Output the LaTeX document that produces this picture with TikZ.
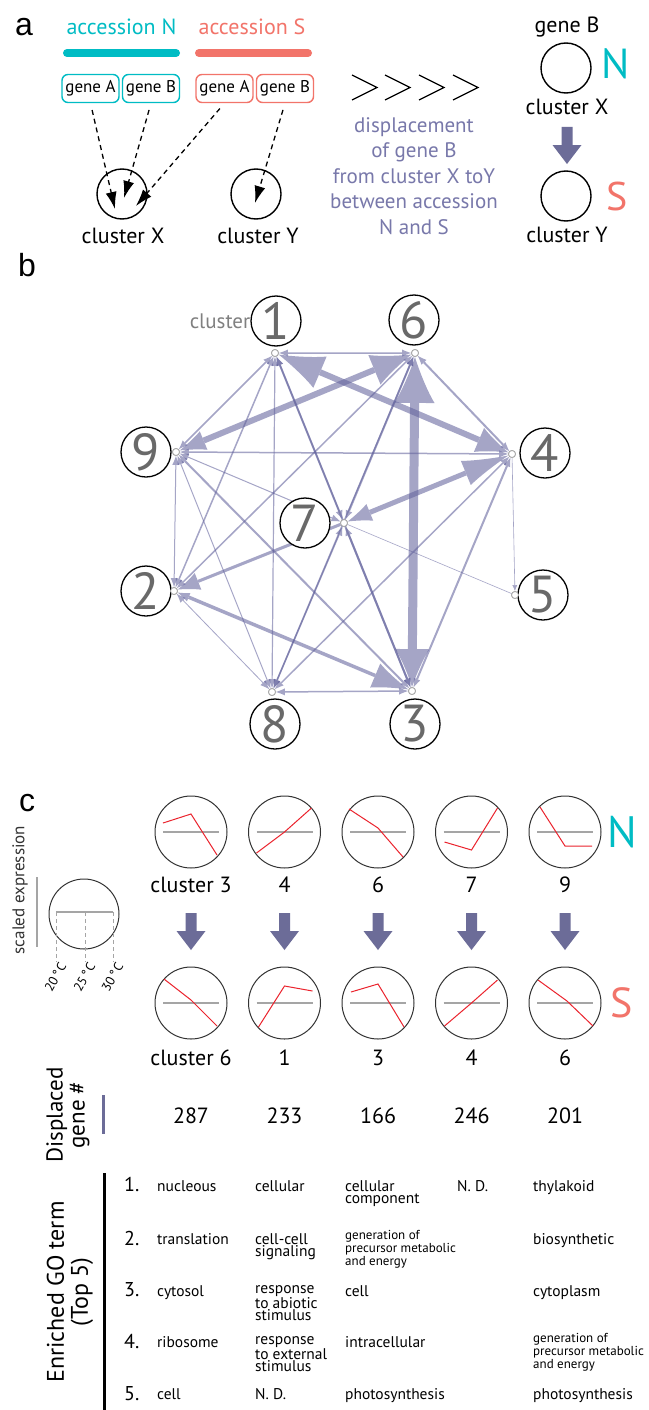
\documentclass[tikz,border=0pt]{standalone}
\usepackage{fontspec}
\setmainfont{PT Sans}
\newfontfamily\labfont{Liberation Sans}
\usetikzlibrary{arrows.meta,calc}
\definecolor{cyanN}{RGB}{0,188,196}
\definecolor{salS}{RGB}{242,116,106}
\definecolor{purp}{RGB}{120,120,170}
\definecolor{edgec}{RGB}{100,100,158}
\definecolor{arrc}{RGB}{108,108,152}
\definecolor{numgrey}{RGB}{105,105,105}
\definecolor{redl}{RGB}{235,35,45}
\definecolor{greyl}{RGB}{165,165,165}
\newcommand\fsz[1]{\fontsize{#1}{#1}\selectfont}
\newcommand\edgeline[3]{\begin{scope}[transparency group, opacity=0.58]\draw[edgec,#1] (#2) -- (#3);\end{scope}}
\tikzset{
  panellab/.style={font=\labfont\fsz{32}, inner sep=0},
  gbox/.style={draw, rounded corners=6pt, line width=1.4pt, minimum width=57pt, minimum height=28pt, inner sep=1pt, font=\fsz{17}},
  dasharr/.style={line width=1.3pt, dash pattern=on 5pt off 4pt, -{Latex[length=17pt,width=11pt]}, shorten <=7pt},
  bigc/.style={circle, draw, line width=1.4pt, minimum size=50pt, inner sep=0},
  clab/.style={font=\fsz{22}, inner sep=0},
  chev/.style={line width=1.3pt},
  nd/.style={circle, draw=gray!70, fill=white, line width=0.8pt, minimum size=7pt, inner sep=0},
  lc/.style={circle, draw=black, fill=white, line width=1.3pt, minimum size=50pt, inner sep=0, text=numgrey, font=\fsz{52}},
  sm/.style={arrows={Latex[length=9pt,width=7pt,line width=0pt]-Latex[length=9pt,width=7pt,line width=0pt]}},
  ecirc/.style={circle, draw=black!80, line width=1pt, minimum size=72pt, inner sep=0},
  red/.style={draw=redl, line width=1pt},
  gline/.style={draw=greyl, line width=1.6pt},
  tnum/.style={font=\fsz{20}, anchor=west, inner sep=0},
  tcell/.style={font=\fontsize{15.5}{12.5}\selectfont, align=left, anchor=north west, inner sep=0},
  tsmall/.style={font=\fontsize{13}{11.5}\selectfont, align=left, anchor=north west, inner sep=0},
  downarr/.pic={\fill[arrc] (-5.5,0) -- (5.5,0) -- (5.5,18) -- (14.5,18) -- (0,37) -- (-14.5,18) -- (-5.5,18) -- cycle;}
}
\begin{document}
\begin{tikzpicture}[x=1pt,y=-1pt]
\path[use as bounding box, fill=white] (0,0) rectangle (648,1410);

% ---------------- panel a
\node[panellab] (pa) at (24,27) {a};
\node[text=cyanN, font=\fsz{22}] (accN) at (121.5,27) {accession N};
\node[text=salS, font=\fsz{22}] (accS) at (252,27) {accession S};
\draw[cyanN, line width=8pt, line cap=round] (67,53) -- (176,53);
\draw[salS, line width=8pt, line cap=round] (199,53) -- (308,53);
\node[gbox, draw=cyanN] (nA) at (90.5,88.5) {gene A};
\node[gbox, draw=cyanN] (nB) at (151,88.5) {gene B};
\node[gbox, draw=salS] (sA) at (224.5,88.5) {gene A};
\node[gbox, draw=salS] (sB) at (285,88.5) {gene B};
\node[bigc] (cX) at (122,194) {};
\node[bigc] (cY) at (256,194) {};
\node[clab] (lX) at (123,236) {cluster X};
\node[clab] (lY) at (258,236) {cluster Y};
\coordinate (tA) at (115,209);
\coordinate (tB) at (124,198);
\coordinate (tC) at (136,206);
\coordinate (tD) at (255,203);
\draw[dasharr] (nA.south) -- (tA);
\draw[dasharr] (nB.south) -- (tB);
\draw[dasharr] (sA.south) -- (tC);
\draw[dasharr] (sB.south) -- (tD);
\foreach \cx in {352,385,419,453}{\draw[chev] (\cx,75) -- (\cx+25,87.5) -- (\cx,100);}
\node[text=purp, align=center, font=\fontsize{21}{25.5}\selectfont] (disp) at (414,176) {displacement\\of gene B\\from cluster X toY\\between accession\\N and S};
\node[clab] (gB) at (567,27) {gene B};
\node[bigc] (rX) at (566,68) {};
\node[text=cyanN, font=\fsz{42}, inner sep=0] (rN) at (616,64) {N};
\node[clab] (rlX) at (567,107) {cluster X};
\pic at (567,127) {downarr};
\node[bigc] (rY) at (566,196) {};
\node[text=salS, font=\fsz{40}, inner sep=0] (rS) at (617,196) {S};
\node[clab] (rlY) at (567,235) {cluster Y};

% ---------------- panel b
\node[panellab] (pb) at (27,265) {b};
\node[nd] (n1) at (275,353) {};
\node[nd] (n6) at (415,353) {};
\node[nd] (n9) at (176,452) {};
\node[nd] (n4) at (512,454) {};
\node[nd] (n7) at (344,523) {};
\node[nd] (n2) at (174,591) {};
\node[nd] (n5) at (515,595) {};
\node[nd] (n8) at (272,692) {};
\node[nd] (n3) at (412,691) {};
% thick edges
\edgeline{line width=9pt, {Latex[length=46pt,width=40pt,line width=0pt]}-{Latex[length=38pt,width=34pt,line width=0pt]}}{n6}{n3}
\edgeline{line width=6pt, {Latex[length=45pt,width=34pt,line width=0pt]}-{Latex[length=32pt,width=26pt,line width=0pt]}}{n1}{n4}
\edgeline{line width=6pt, {Latex[length=26pt,width=20pt,line width=0pt]}-{Latex[length=40pt,width=32pt,line width=0pt]}}{n9}{n6}
\edgeline{line width=5pt, {Latex[length=24pt,width=18pt,line width=0pt]}-{Latex[length=46pt,width=26pt,line width=0pt]}}{n7}{n4}
\edgeline{line width=3pt, -{Latex[length=22pt,width=18pt,line width=0pt]}}{n7}{n2}
\edgeline{line width=3.5pt, {Latex[length=12pt,width=9pt,line width=0pt]}-{Latex[length=36pt,width=26pt,line width=0pt]}}{n2}{n3}
% thinner edges
\edgeline{line width=2pt, sm}{n6}{n4}
\edgeline{line width=1.5pt, sm}{n1}{n6}
\edgeline{line width=1.5pt, sm}{n9}{n4}
\edgeline{line width=1.5pt, sm}{n1}{n9}
\edgeline{line width=1.5pt, sm}{n1}{n2}
\edgeline{line width=1.2pt, sm}{n1}{n8}
\edgeline{line width=1.5pt, sm}{n1}{n7}
\edgeline{line width=2pt, sm}{n1}{n3}
\edgeline{line width=2pt, sm}{n6}{n7}
\edgeline{line width=1.5pt, sm}{n6}{n2}
\edgeline{line width=1.5pt, sm}{n6}{n8}
\edgeline{line width=1pt, sm}{n9}{n2}
\edgeline{line width=1pt, sm}{n9}{n8}
\edgeline{line width=2pt, sm}{n9}{n3}
\edgeline{line width=1pt, sm}{n9}{n7}
\edgeline{line width=0.6pt, -{Latex[length=6pt,width=5pt]}}{n4}{n5}
\edgeline{line width=1.5pt, sm}{n4}{n8}
\edgeline{line width=2pt, sm}{n4}{n3}
\edgeline{line width=0.6pt}{n7}{n5}
\edgeline{line width=1.5pt, sm}{n7}{n8}
\edgeline{line width=2pt, sm}{n7}{n3}
\edgeline{line width=0.8pt, sm}{n2}{n8}
\edgeline{line width=1.5pt, sm}{n8}{n3}
% label circles
\node[lc] (l1) at (276,321) {1};
\node[lc] (l6) at (414,320) {6};
\node[lc] (l9) at (146,452) {9};
\node[lc] (l4) at (545,453) {4};
\node[lc] (l7) at (305,523) {7};
\node[lc] (l2) at (146,591) {2};
\node[lc] (l5) at (543,595) {5};
\node[lc] (l8) at (275,724) {8};
\node[lc] (l3) at (415,724) {3};
\node[text=numgrey!85, font=\fsz{21}, inner sep=0] (cltxt) at (220,321) {cluster};
% small node circles on top
\foreach \n/\p in {a1/{(275,353)},a6/{(415,353)},a9/{(176,452)},a4/{(512,454)},a7/{(344,523)},a2/{(174,591)},a5/{(515,595)},a8/{(272,692)},a3/{(412,691)}}{\node[nd] (\n) at \p {};}

% ---------------- panel c
\node[panellab] (pc) at (27,803) {c};
\foreach \i/\x in {1/191,2/284.5,3/378,4/471.5,5/565}{
  \node[ecirc] (t\i) at (\x,832) {};
  \node[ecirc] (b\i) at (\x,1003) {};
  \draw[gline] ($(t\i)+(-28,0)$) -- ($(t\i)+(28,0)$);
  \draw[gline] ($(b\i)+(-28,0)$) -- ($(b\i)+(28,0)$);
  \pic at (\x,913) {downarr};
}
\begin{scope}[shift={(191,832)}]\draw[red] (-28,-9) -- (0,-18) -- (26,23);\end{scope}
\begin{scope}[shift={(284.5,832)}]\draw[red] (-28,21) -- (0,0) -- (27,-24);\end{scope}
\begin{scope}[shift={(378,832)}]\draw[red] (-29,-23) -- (0,-4) -- (25,25);\end{scope}
\begin{scope}[shift={(471.5,832)}]\draw[red] (-27,10) -- (0,18) -- (26,-24);\end{scope}
\begin{scope}[shift={(565,832)}]\draw[red] (-25,-25) -- (0,14) -- (27,14);\end{scope}
\begin{scope}[shift={(191,1003)}]\draw[red] (-27,-24) -- (0,-3) -- (26,23);\end{scope}
\begin{scope}[shift={(284.5,1003)}]\draw[red] (-26,24) -- (0,-17) -- (28,-12);\end{scope}
\begin{scope}[shift={(378,1003)}]\draw[red] (-27,-11) -- (0,-19) -- (26,24);\end{scope}
\begin{scope}[shift={(471.5,1003)}]\draw[red] (-27,23) -- (0,0) -- (26,-23);\end{scope}
\begin{scope}[shift={(565,1003)}]\draw[red] (-27,-23) -- (2,-2) -- (28,23);\end{scope}
\node[text=cyanN, font=\fsz{44}, inner sep=0] (cN) at (622,832) {N};
\node[text=salS, font=\fsz{42}, inner sep=0] (cS) at (622,1003) {S};
\node[clab] (tl1) at (191,885) {cluster 3};
\node[clab] (tl2) at (284.5,885) {4};
\node[clab] (tl3) at (378,885) {6};
\node[clab] (tl4) at (471.5,885) {7};
\node[clab] (tl5) at (565,885) {9};
\node[clab] (bl1) at (191,1058) {cluster 6};
\node[clab] (bl2) at (284.5,1058) {1};
\node[clab] (bl3) at (378,1058) {3};
\node[clab] (bl4) at (471.5,1058) {4};
\node[clab] (bl5) at (565,1058) {6};
% legend
\node[circle, draw=black!80, line width=1pt, minimum size=70pt, inner sep=0] (leg) at (84,914) {};
\node[rotate=90, font=\fsz{17}, text=black!80, inner sep=0] (scx) at (20,890) {scaled expression};
\draw[gline, line width=1.2pt] (37,877) -- (37,947);
\draw[gline] (56,912) -- (113,912);
\foreach \x/\t in {56/20,85/25,113/30}{
  \draw[draw=greyl, line width=1pt, dash pattern=on 4pt off 3pt] (\x,912) -- (\x,962);
  \node[rotate=60, anchor=east, font=\fsz{13}, inner sep=0] at (\x+7,964) {\t\kern1.5pt°\kern1.5pt C};
}
% displaced gene numbers
\node[rotate=90, align=center, font=\fontsize{23}{22}\selectfont, inner sep=0] (dg) at (68,1115) {Displaced\\gene \#};
\draw[draw=arrc, line width=3pt] (103,1095) -- (103,1134);
\foreach \x/\v in {191/287,284.5/233,378/166,471.5/246,565/201}{\node[clab] at (\x,1116) {\v};}
% GO table
\node[rotate=90, align=center, font=\fontsize{24}{24}\selectfont, inner sep=0] (go) at (70,1292) {Enriched GO term\\(Top 5)};
\draw[line width=3pt] (104,1173) -- (104,1410);
\node[tnum] (r1) at (124,1184) {1.};
\node[tnum] (r2) at (124,1238) {2.};
\node[tnum] (r3) at (124,1290) {3.};
\node[tnum] (r4) at (124,1341) {4.};
\node[tnum] (r5) at (124,1394) {5.};
% row 1
\node[tcell] at (157,1180) {nucleous};
\node[tcell] at (255,1180) {cellular};
\node[tcell] at (345,1180) {cellular\\component};
\node[tcell] at (457,1180) {N. D.};
\node[tcell] at (533,1180) {thylakoid};
% row 2
\node[tcell] at (157,1233) {translation};
\node[tcell] at (255,1233) {cell-cell\\signaling};
\node[tsmall] at (345,1230) {generation of\\precursor metabolic\\and energy};
\node[tcell] at (533,1233) {biosynthetic};
% row 3
\node[tcell] at (157,1285) {cytosol};
\node[tcell] at (255,1285) {response\\to abiotic\\stimulus};
\node[tcell] at (345,1285) {cell};
\node[tcell] at (533,1285) {cytoplasm};
% row 4
\node[tcell] at (157,1336) {ribosome};
\node[tcell] at (255,1336) {response\\to external\\stimulus};
\node[tcell] at (345,1336) {intracellular};
\node[tsmall] at (533,1333) {generation of\\precursor metabolic\\and energy};
% row 5
\node[tcell] at (157,1388) {cell};
\node[tcell] at (255,1388) {N. D.};
\node[tcell] at (345,1388) {photosynthesis};
\node[tcell] at (533,1388) {photosynthesis};
\end{tikzpicture}
\end{document}
